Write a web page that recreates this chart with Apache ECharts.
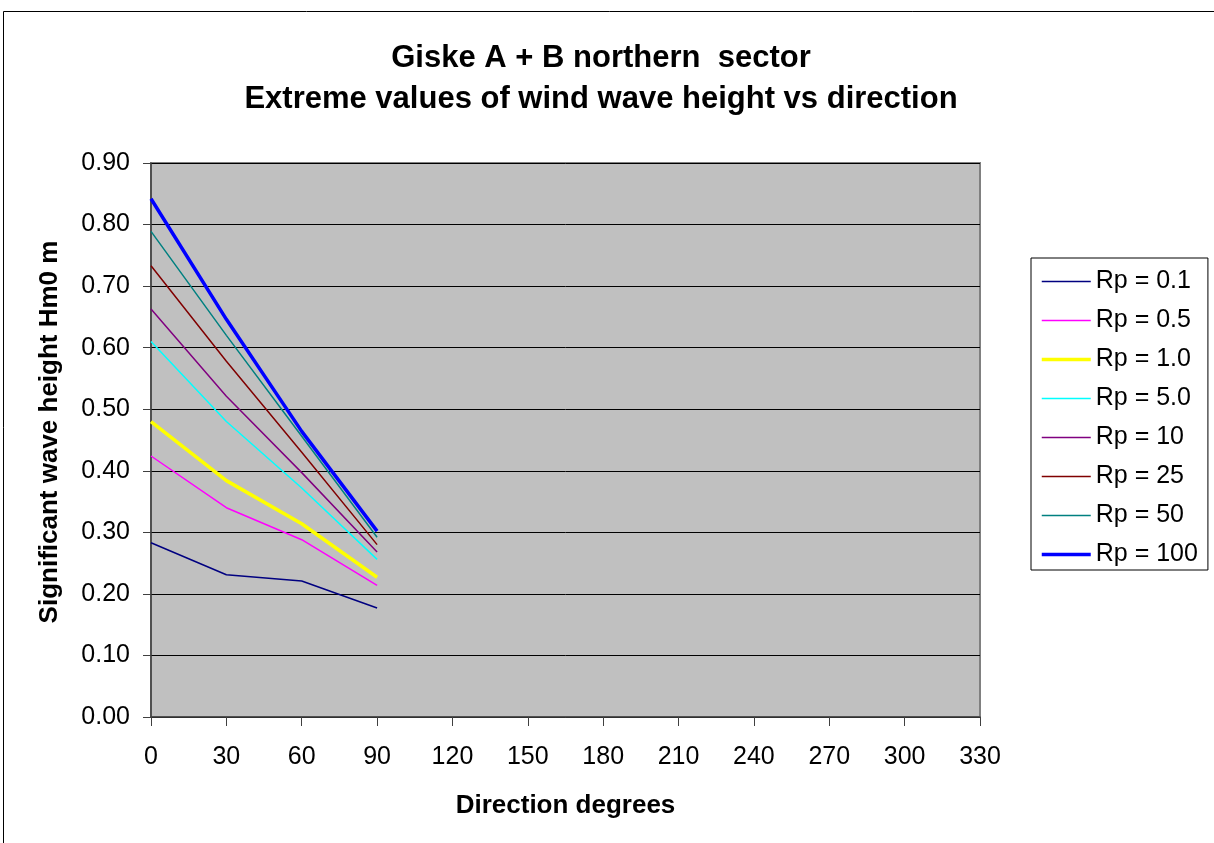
<!DOCTYPE html>
<html>
<head>
<meta charset="utf-8">
<script src="https://cdn.jsdelivr.net/npm/echarts@6/dist/echarts.min.js"></script>
<style>
  html, body { margin: 0; padding: 0; background: #fff; }
  #chart { width: 1214px; height: 843px; }
</style>
</head>
<body>
<div id="chart"></div>
<script>
// directions (degrees) where values exist
const directions = [0, 30, 60, 90];

// return period labels
const seriesNames = ['Rp = 0.1', 'Rp = 0.5', 'Rp = 1.0', 'Rp = 5.0', 'Rp = 10', 'Rp = 25', 'Rp = 50', 'Rp = 100'];

// Hm0 values per return period
const rp01 = [0.283, 0.231, 0.221, 0.177];
const rp05 = [0.424, 0.340, 0.288, 0.214];
const rp1 = [0.480, 0.384, 0.314, 0.227];
const rp5 = [0.610, 0.480, 0.372, 0.256];
const rp10 = [0.663, 0.521, 0.397, 0.268];
const rp25 = [0.733, 0.578, 0.430, 0.280];
const rp50 = [0.789, 0.620, 0.456, 0.292];
const rp100 = [0.842, 0.646, 0.464, 0.302];

const xTicks = { min: 0, max: 330, interval: 30 };
const yTicks = { min: 0, max: 0.9, interval: 0.1 };

const seriesValues = [rp01, rp05, rp1, rp5, rp10, rp25, rp50, rp100];
const colors = ['#000080', '#FF00FF', '#FFFF00', '#00FFFF', '#800080', '#800000', '#008080', '#0000FF'];
const widths = [1.5, 1.5, 3.5, 1.5, 1.5, 1.5, 1.5, 3.5];

const FONT = "'Liberation Sans', Arial, sans-serif";

const chart = echarts.init(document.getElementById('chart'));

const option = {
  animation: false,
  backgroundColor: '#ffffff',
  graphic: [
    {
      type: 'rect',
      shape: { x: 3.5, y: 11.5, width: 1400, height: 1000 },
      style: { fill: 'none', stroke: '#000', lineWidth: 1 },
      silent: true,
    },
    {
      type: 'text',
      x: 601,
      y: 38,
      style: {
        text: 'Giske A + B northern  sector\nExtreme values of wind wave height vs direction',
        font: 'bold 31px ' + FONT,
        fill: '#000',
        align: 'center',
        verticalAlign: 'top',
        lineHeight: 41,
      },
    },
    {
      // y axis title, drawn by hand to place it like the original
      type: 'text',
      x: 50,
      y: 432,
      rotation: Math.PI / 2,
      style: {
        text: 'Significant wave height Hm0 m',
        font: 'bold 26px ' + FONT,
        fill: '#000',
        align: 'center',
        verticalAlign: 'middle',
      },
    },
  ],
  grid: {
    left: 151,
    top: 163,
    width: 829,
    height: 554,
    show: true,
    backgroundColor: '#C0C0C0',
    borderColor: '#808080',
    borderWidth: 2,
  },
  legend: {
    orient: 'vertical',
    left: 1031,
    top: 258,
    padding: [11, 10, 3, 9],
    itemWidth: 49,
    itemHeight: 26,
    itemGap: 14,
    borderColor: '#000',
    borderWidth: 1,
    backgroundColor: '#fff',
    itemStyle: { opacity: 0 },
    textStyle: { fontFamily: FONT, fontSize: 25, color: '#000' },
    data: seriesNames.map((n, i) => ({
      name: n,
      lineStyle: { color: colors[i], width: widths[i] },
    })),
  },
  xAxis: {
    type: 'value',
    min: xTicks.min,
    max: xTicks.max,
    interval: xTicks.interval,
    name: 'Direction degrees',
    nameLocation: 'middle',
    nameGap: 76,
    nameTextStyle: { fontFamily: FONT, fontSize: 26, fontWeight: 'bold', color: '#000' },
    axisLine: { show: true, lineStyle: { color: '#404040', width: 1.5 } },
    axisTick: { show: true, length: 9, lineStyle: { color: '#404040' } },
    axisLabel: { fontFamily: FONT, fontSize: 25, color: '#000', margin: 28 },
    splitLine: { show: false },
  },
  yAxis: {
    type: 'value',
    min: yTicks.min,
    max: yTicks.max,
    interval: yTicks.interval,
    axisLine: { show: true, lineStyle: { color: '#404040', width: 1.5 } },
    axisTick: { show: true, length: 8, lineStyle: { color: '#404040' } },
    axisLabel: {
      fontFamily: FONT,
      fontSize: 25,
      color: '#000',
      margin: 21,
      formatter: (v) => v.toFixed(2),
    },
    splitLine: { show: true, lineStyle: { color: '#000', width: 1 } },
  },
  series: seriesNames.map((name, i) => ({
    name: name,
    type: 'line',
    symbol: 'none',
    data: directions.map((d, j) => [d, seriesValues[i][j]]),
    lineStyle: { color: colors[i], width: widths[i] },
    itemStyle: { color: colors[i] },
    z: 2 + i,
  })),
};

chart.setOption(option);
</script>
</body>
</html>
